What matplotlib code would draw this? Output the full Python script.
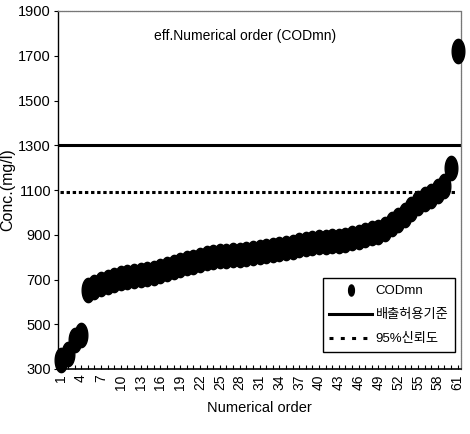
import matplotlib
matplotlib.use("Agg")
import matplotlib.pyplot as plt
import numpy as np
from matplotlib.path import Path
from matplotlib.lines import Line2D
from matplotlib import font_manager

# Ranked effluent CODmn concentrations (mg/l), sample 1..61
order = list(range(1, 62))
codmn = [340, 365, 430, 452, 655, 668, 680, 690, 697, 705,
         710, 714, 720, 726, 731, 738, 747, 756, 765, 772,
         780, 789, 795, 801, 806, 807, 808, 810, 814, 818,
         822, 826, 831, 836, 841, 846, 852, 857, 861, 866,
         868, 870, 872, 878, 885, 892, 900, 907, 913, 925,
         948, 968, 990, 1014, 1040, 1058, 1075, 1095, 1120, 1198,
         1720]
standard_limit = 1300      # 배출허용기준
confidence_95 = 1090       # 95%신뢰도

title_text = "eff.Numerical order (CODmn)"
legend_labels = ["CODmn", "배출허용기준", "95%신뢰도"]
xtick_labels = list(range(1, 62, 3))
ytick_values = list(range(300, 2000, 200))

available = {f.name for f in font_manager.fontManager.ttflist}
base = "Liberation Sans Narrow" if "Liberation Sans Narrow" in available else "Liberation Sans"
fam = [base, "Noto Sans CJK KR", "DejaVu Sans"]
plt.rcParams["font.family"] = fam

# tall ellipse marker
t = np.linspace(0, 2 * np.pi, 60)
ellipse = Path(np.column_stack([0.52 * np.cos(t), np.sin(t)]), closed=True)

fig = plt.figure(figsize=(4.70, 4.34), dpi=100)
ax = fig.add_axes([58 / 470, 65 / 434, 403 / 470, 358 / 434])

ax.plot(order, codmn, linestyle="none", marker=ellipse, markersize=17.5,
        color="black", clip_on=False, zorder=3)
ax.axhline(standard_limit, xmin=0.003, xmax=0.995, color="black", lw=2.2)
ax.axhline(confidence_95, xmin=0.006, xmax=0.99, color="black", lw=2.2,
           dashes=(1.1, 0.9))

ax.set_xlim(0.5, 61.5)
ax.set_ylim(300, 1900)

ax.set_xticks(order)
ax.set_xticklabels([str(v) if v in xtick_labels else "" for v in order],
                   rotation=90, fontsize=10)
ax.tick_params(axis="x", direction="in", length=3, width=0.8, pad=4)
ax.set_yticks(ytick_values)
ax.set_yticklabels([str(v) for v in ytick_values], fontsize=10.5)
ax.tick_params(axis="y", direction="out", length=3, width=0.8, pad=2)

for side in ("top", "right"):
    ax.spines[side].set_color("#777777")
    ax.spines[side].set_linestyle((0, (1, 0.6)))
    ax.spines[side].set_linewidth(0.9)
ax.spines["left"].set_linewidth(1.0)
ax.spines["bottom"].set_linewidth(1.2)

ax.text(0.465, 0.93, title_text, transform=ax.transAxes, ha="center",
        va="center", fontsize=10)
ax.set_xlabel("Numerical order", fontsize=10.5, labelpad=8)
ax.set_ylabel("Conc.(mg/l)", fontsize=11.5, labelpad=2)

handles = [
    Line2D([], [], linestyle="none", marker=ellipse, markersize=8, color="black"),
    Line2D([], [], color="black", lw=2.2),
    Line2D([], [], color="black", lw=2.2, dashes=(1.3, 2.4)),
]
leg = ax.legend(handles, legend_labels, loc="lower right",
                bbox_to_anchor=((455 - 58) / 403, (369 - 352) / 358),
                borderaxespad=0, fontsize=9.5, handlelength=3.2,
                handletextpad=0.3, labelspacing=0.9, borderpad=0.5,
                frameon=True, fancybox=False, framealpha=1)
leg.get_frame().set_edgecolor("black")
leg.get_frame().set_linewidth(1.0)

fig.savefig("out.png", dpi=100)
